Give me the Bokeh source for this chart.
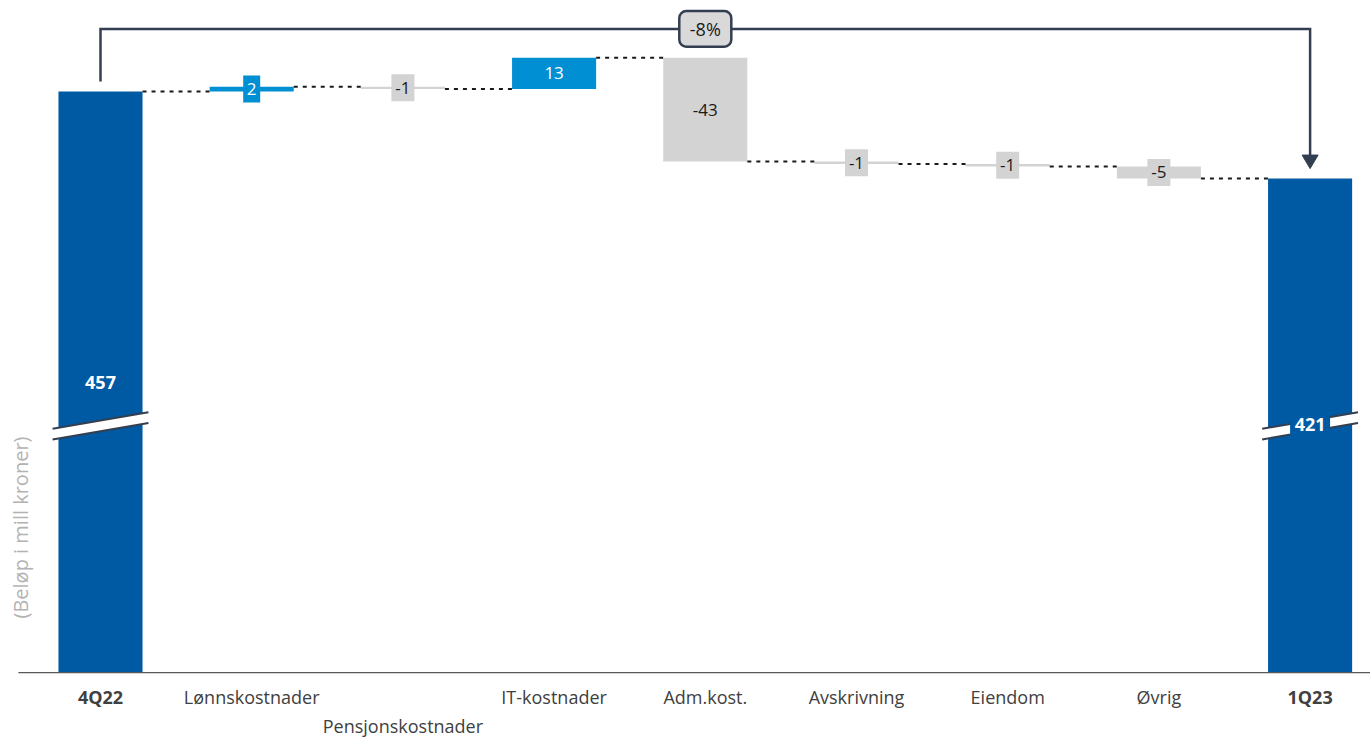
from math import pi
from bokeh.plotting import figure
from bokeh.models import ColumnDataSource, Range1d
from bokeh.embed import file_html
from bokeh.resources import INLINE
from bokeh.core.properties import value

# ---------------- data ----------------
categories = ["4Q22", "Lønnskostnader", "Pensjonskostnader", "IT-kostnader",
              "Adm.kost.", "Avskrivning", "Eiendom", "Øvrig", "1Q23"]
start_total = 457
end_total = 421
changes = [2, -1, 13, -43, -1, -1, -5]
change_labels = ["2", "-1", "13", "-43", "-1", "-1", "-5"]
total_labels = ["457", "421"]
pct_label = "-8%"
y_title = "(Beløp i mill kroner)"

# ---------------- style ----------------
DARK_BLUE = "#005aa3"
POS_BLUE = "#008fd3"
NEG_GRAY = "#d3d3d3"
NAVY = "#333f50"
FONT = "Open Sans"
BAR_W = 0.556
FLOOR = 216.6          # value where the (broken) bars are cut off
BRIDGE_Y = 482.9
GAP = 4.1              # gap between bar top and bridge line ends (value units)

n = len(categories)
xs = list(range(n))

p = figure(width=1370, height=738, output_backend="svg", toolbar_location=None,
           x_range=Range1d(-0.6614, 8.3995), y_range=Range1d(189.31, 494.65),
           x_axis_type=None, y_axis_type=None, min_border=0)
p.outline_line_color = None
p.xgrid.visible = False
p.ygrid.visible = False

# ---------------- waterfall geometry ----------------
bottoms, tops, colors, txtcol = [], [], [], []
levels = [start_total]
run = start_total
for c in changes:
    b, t = run, run + c
    bottoms.append(min(b, t))
    tops.append(max(b, t))
    colors.append(POS_BLUE if c > 0 else NEG_GRAY)
    txtcol.append("white" if c > 0 else "#1a1a1a")
    run += c
    levels.append(run)

# totals
tot_x = [0, n - 1]
tot_vals = [start_total, end_total]
p.vbar(x=tot_x, bottom=FLOOR, top=tot_vals, width=BAR_W, color=DARK_BLUE, line_color=None)

# change bars
chg_x = xs[1:-1]
src = ColumnDataSource(dict(x=chg_x, b=bottoms, t=tops, c=colors,
                            mid=[(a + b) / 2 for a, b in zip(bottoms, tops)],
                            lab=change_labels, tc=txtcol,
                            bw=[11 + 6 * len(s) for s in change_labels]))
p.vbar(x="x", bottom="b", top="t", width=BAR_W, fill_color="c", line_color=None, source=src)

# connectors
for i in range(n - 1):
    lvl = levels[i]
    p.segment(x0=[i + BAR_W / 2], y0=[lvl], x1=[i + 1 - BAR_W / 2], y1=[lvl],
              line_color="#1a1a1a", line_width=2, line_dash="4 5")

# axis break marks on total bars
brk_dx = 0.317
brk_y_left = 317.45
brk_slope = 6.8   # value units rise from left to right
brk_th = 4.4
for x in tot_x:
    xl, xr = x - brk_dx, x + brk_dx
    p.patch(x=[xl, xr, xr, xl],
            y=[brk_y_left, brk_y_left + brk_slope, brk_y_left + brk_slope - brk_th, brk_y_left - brk_th],
            fill_color="white", line_color=None)
    p.segment(x0=[xl, xl], y0=[brk_y_left, brk_y_left - brk_th],
              x1=[xr, xr], y1=[brk_y_left + brk_slope, brk_y_left + brk_slope - brk_th],
              line_color=NAVY, line_width=2)

# change labels with boxes
p.rect(x="x", y="mid", width="bw", height=27, width_units="screen", height_units="screen",
       fill_color="c", line_color=None, source=src)
p.text(x="x", y="mid", text="lab", source=src, text_color="tc",
       text_align="center", text_baseline="middle", text_font=value(FONT),
       text_font_size="17px")

# total labels
tot_lab_y = [336.6, 319.2]
p.rect(x=tot_x, y=tot_lab_y, width=40, height=22, width_units="screen", height_units="screen",
       fill_color=DARK_BLUE, line_color=None)
p.text(x=tot_x, y=tot_lab_y, text=total_labels, text_color="white",
       text_align="center", text_baseline="middle", text_font=value(FONT),
       text_font_style="bold", text_font_size="18px")

# baseline
p.segment(x0=[-0.543], y0=[FLOOR], x1=[8.5], y1=[FLOOR], line_color="#595959", line_width=1.2)

# bridge arrow
p.line(x=[0, 0, n - 1, n - 1],
       y=[start_total + GAP, BRIDGE_Y, BRIDGE_Y, end_total + GAP + 5.4],
       line_color=NAVY, line_width=2.5, line_join="miter")
hw = 0.053
p.patch(x=[n - 1 - hw, n - 1 + hw, n - 1],
        y=[end_total + GAP + 5.6, end_total + GAP + 5.6, end_total + GAP],
        fill_color=NAVY, line_color=NAVY, line_width=1)
bx = (n - 1) / 2
p.quad(left=[bx - 0.172], right=[bx + 0.172], bottom=[BRIDGE_Y - 7.4], top=[BRIDGE_Y + 7.4],
       fill_color="#d9d9d9", line_color=NAVY, line_width=2.5, border_radius=7)
p.text(x=[bx], y=[BRIDGE_Y], text=[pct_label], text_color="#1a1a1a",
       text_align="center", text_baseline="middle", text_font=value(FONT),
       text_font_size="18px")

# category labels
row1 = 206.3
row2 = 194.3
lab_y = [row2 if c == "Pensjonskostnader" else row1 for c in categories]
styles = ["bold" if i in (0, n - 1) else "normal" for i in xs]
lsrc = ColumnDataSource(dict(x=xs, y=lab_y, t=categories, s=styles))
p.text(x="x", y="y", text="t", source=lsrc, text_color="#404040",
       text_align="center", text_baseline="middle", text_font=value(FONT),
       text_font_size="18px", text_font_style="s")

# y title
p.text(x=[-0.529], y=[276.6], text=[y_title], angle=pi / 2, text_color="#b3b3b3",
       text_align="center", text_baseline="middle", text_font=value(FONT),
       text_font_size="20px")

open("out.html", "w").write(file_html(p, INLINE))
